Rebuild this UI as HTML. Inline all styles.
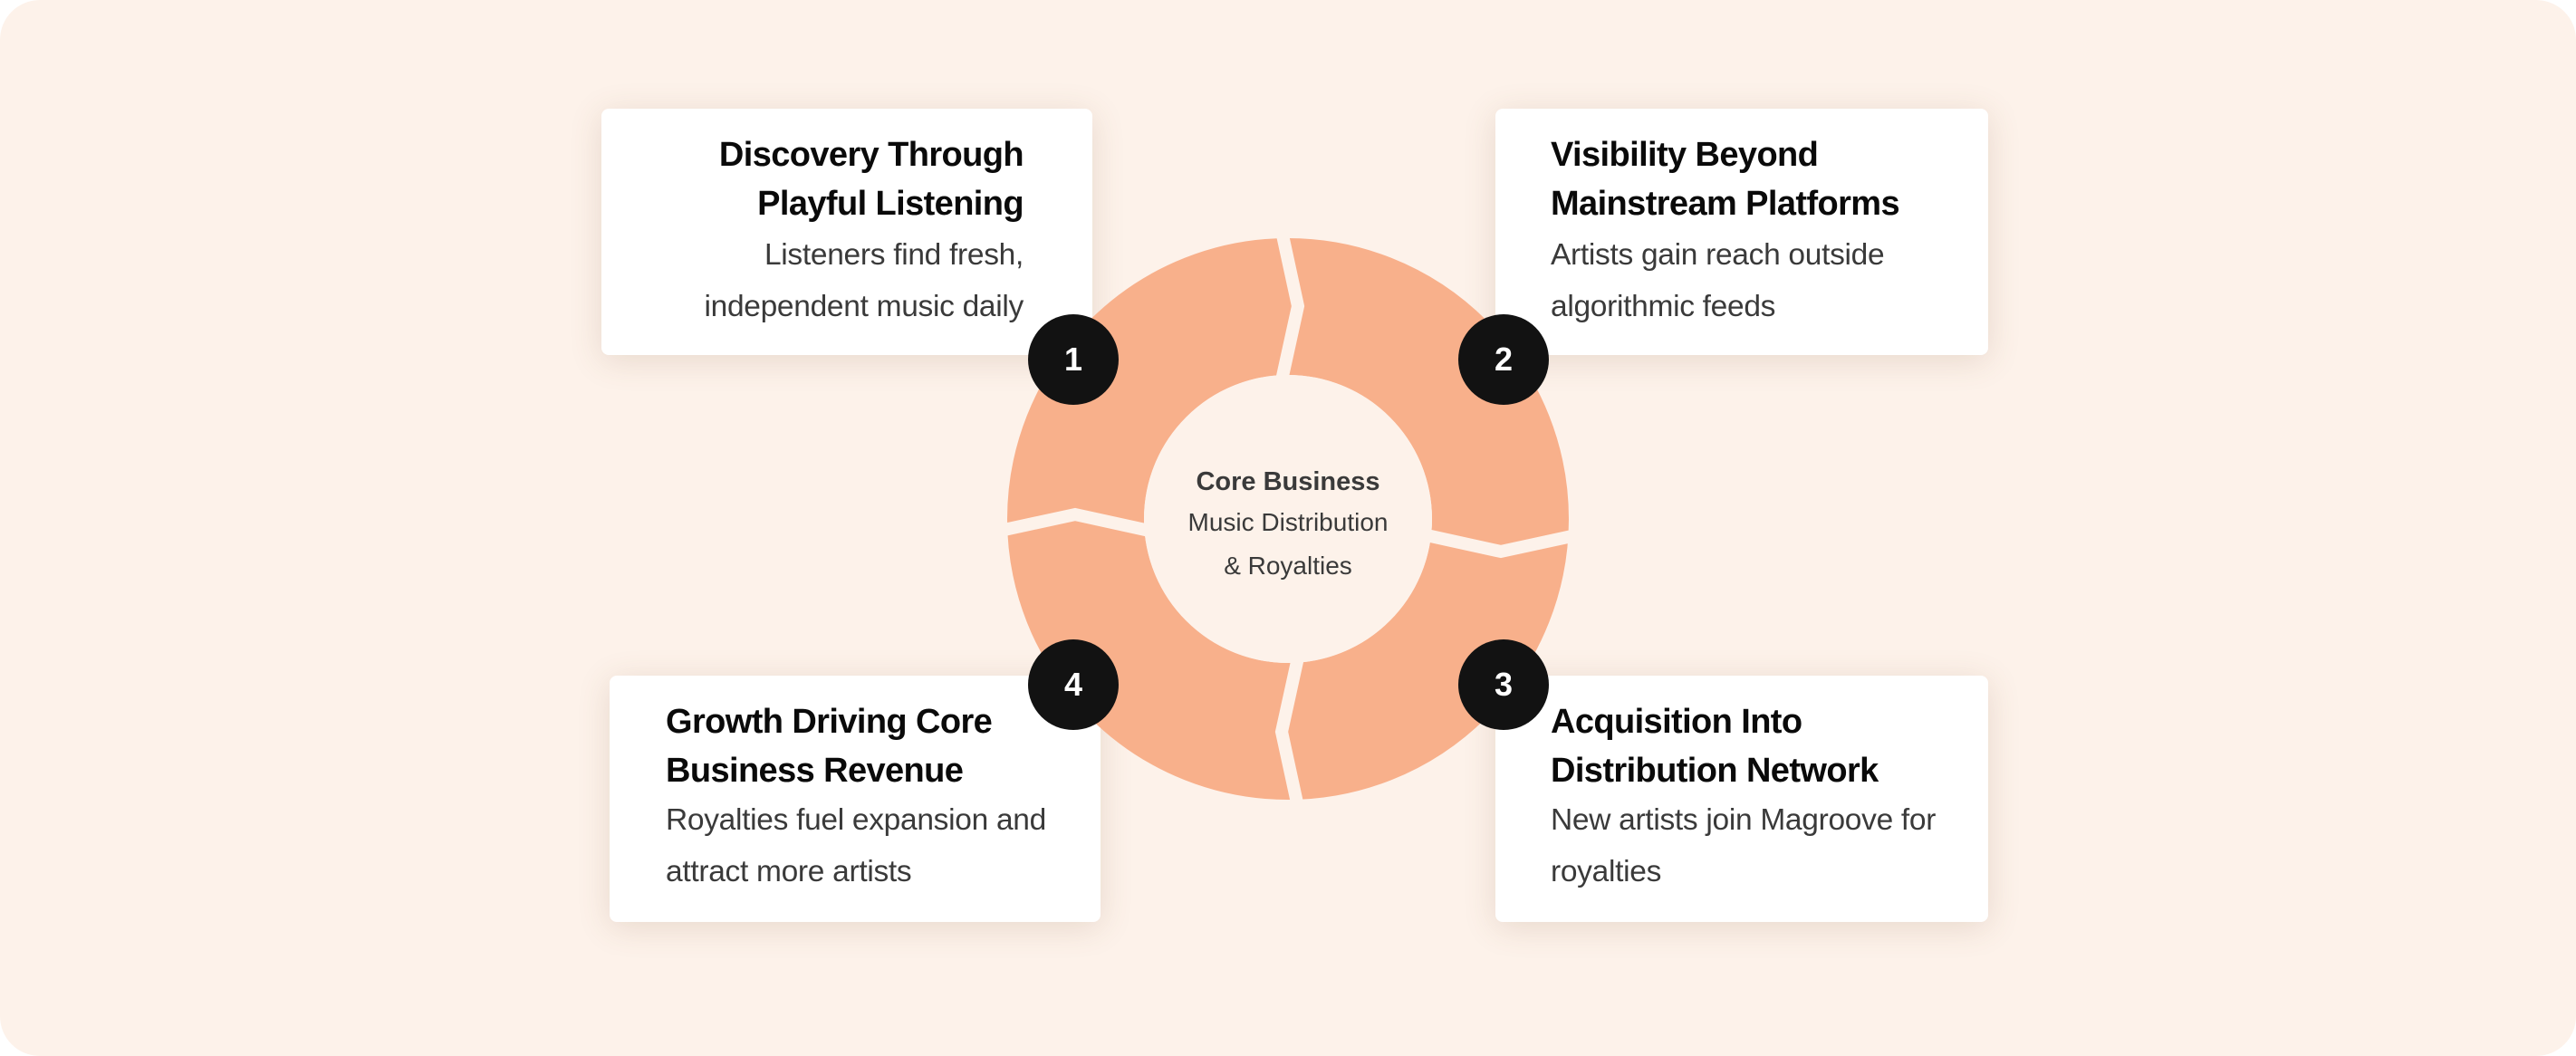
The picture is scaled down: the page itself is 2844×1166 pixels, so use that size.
<!DOCTYPE html>
<html><head><meta charset="utf-8"><style>
html,body{margin:0;padding:0;background:#fff;}
#page{position:relative;width:2844px;height:1166px;background:#fdf2ea;border-radius:44px;overflow:hidden;font-family:"Liberation Sans",Arial,sans-serif;}
.card{position:absolute;background:#fff;border-radius:8px;box-shadow:0 6px 36px rgba(120,80,50,0.16);}
.t{position:absolute;font-weight:bold;font-size:38px;color:#0a0a0a;letter-spacing:-0.6px;white-space:nowrap;line-height:54px;}
.b{position:absolute;font-size:33.5px;color:#3a3a3a;white-space:nowrap;line-height:57px;letter-spacing:-0.3px;}
.r{text-align:right}
.badge{position:absolute;width:100px;height:100px;border-radius:50%;background:#121212;color:#fff;font-weight:bold;font-size:36px;line-height:100px;text-align:center;}
</style></head><body><div id="page">

<div class="card" style="left:664px;top:120px;width:542px;height:272px;"></div>
<div class="t r" style="right:1714px;top:144px;">Discovery Through<br>Playful Listening</div>
<div class="b r" style="right:1714px;top:253px;">Listeners find fresh,<br>independent music daily</div>

<div class="card" style="left:1651px;top:120px;width:544px;height:272px;"></div>
<div class="t" style="left:1712px;top:144px;">Visibility Beyond<br>Mainstream Platforms</div>
<div class="b" style="left:1712px;top:253px;">Artists gain reach outside<br>algorithmic feeds</div>

<div class="card" style="left:1651px;top:746px;width:544px;height:272px;"></div>
<div class="t" style="left:1712px;top:770px;">Acquisition Into<br>Distribution Network</div>
<div class="b" style="left:1712px;top:877px;">New artists join Magroove for<br>royalties</div>

<div class="card" style="left:673px;top:746px;width:542px;height:272px;"></div>
<div class="t" style="left:735px;top:770px;">Growth Driving Core<br>Business Revenue</div>
<div class="b" style="left:735px;top:877px;">Royalties fuel expansion and<br>attract more artists</div>

<svg style="position:absolute;left:0;top:0" width="2844" height="1166">
<circle cx="1422" cy="573" r="234.5" fill="none" stroke="#f8b08b" stroke-width="151"/>
<g fill="none" stroke="#fdf2ea" stroke-width="14" stroke-linejoin="miter">
<polyline points="1415,255 1433,338 1415,420"/>
<polyline points="1575,591 1657,609 1740,591"/>
<polyline points="1433,891 1415,808 1433,726"/>
<polyline points="1104,586 1187,568 1269,586"/>
</g>
<circle cx="1422" cy="573" r="159" fill="#fdf2ea"/>
<text x="1422" y="541" text-anchor="middle" font-family="Liberation Sans, Arial, sans-serif" font-weight="bold" font-size="29" fill="#3a3a3a">Core Business</text>
<text x="1422" y="586" text-anchor="middle" font-family="Liberation Sans, Arial, sans-serif" font-size="28" fill="#3a3a3a">Music Distribution</text>
<text x="1422" y="634" text-anchor="middle" font-family="Liberation Sans, Arial, sans-serif" font-size="28" fill="#3a3a3a">&amp; Royalties</text>
</svg>

<div class="badge" style="left:1135px;top:347px;">1</div>
<div class="badge" style="left:1610px;top:347px;">2</div>
<div class="badge" style="left:1610px;top:706px;">3</div>
<div class="badge" style="left:1135px;top:706px;">4</div>

</div></body></html>
